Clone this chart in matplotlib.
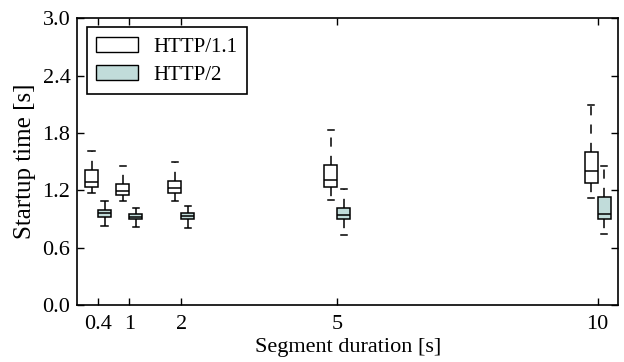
import matplotlib
matplotlib.use('Agg')
import matplotlib.pyplot as plt
from matplotlib.patches import Patch

plt.rcParams['font.family'] = ['Liberation Serif', 'DejaVu Serif']
plt.rcParams['font.size'] = 16

# segment durations [s]
durations = [0.4, 1, 2, 5, 10]

# startup time statistics per duration: lower cap, Q1, median, Q3, upper cap
h1_low = [1.17, 1.09, 1.09, 1.10, 1.12]
h1_q1 = [1.23, 1.15, 1.17, 1.23, 1.28]
h1_med = [1.29, 1.19, 1.22, 1.31, 1.40]
h1_q3 = [1.41, 1.27, 1.30, 1.47, 1.60]
h1_high = [1.61, 1.45, 1.50, 1.83, 2.09]

h2_low = [0.83, 0.82, 0.81, 0.73, 0.74]
h2_q1 = [0.92, 0.90, 0.90, 0.90, 0.90]
h2_med = [0.96, 0.92, 0.93, 0.94, 0.95]
h2_q3 = [0.99, 0.95, 0.96, 1.02, 1.13]
h2_high = [1.09, 1.02, 1.04, 1.21, 1.45]

h2_color = '#c1dcda'


def make_stats(low, q1, med, q3, high):
    return [dict(whislo=a, q1=b, med=c, q3=d, whishi=e, fliers=[])
            for a, b, c, d, e in zip(low, q1, med, q3, high)]


fig = plt.figure(figsize=(6.24, 3.62), dpi=100)
ax = fig.add_axes([0.124, 0.157, 0.867, 0.793])

off = 0.125
w = 0.25
line = dict(color='black', linewidth=1.1)
whisk = dict(color='black', linewidth=1.1, linestyle=(0, (6, 6)))

ax.bxp(make_stats(h1_low, h1_q1, h1_med, h1_q3, h1_high),
       positions=[d - off for d in durations], widths=w, patch_artist=True,
       boxprops=dict(facecolor='white', edgecolor='black', linewidth=1.1),
       medianprops=line, whiskerprops=whisk, capprops=line,
       manage_ticks=False)
ax.bxp(make_stats(h2_low, h2_q1, h2_med, h2_q3, h2_high),
       positions=[d + off for d in durations], widths=w, patch_artist=True,
       boxprops=dict(facecolor=h2_color, edgecolor='black', linewidth=1.1),
       medianprops=line, whiskerprops=whisk, capprops=line,
       manage_ticks=False)

ax.set_xlim(0, 10.4)
ax.set_ylim(0, 3.0)
ax.set_xticks(durations)
ax.set_xticklabels(['0.4', '1', '2', '5', '10'])
ax.set_yticks([0.0, 0.6, 1.2, 1.8, 2.4, 3.0])
ax.set_yticklabels(['0.0', '0.6', '1.2', '1.8', '2.4', '3.0'])
ax.tick_params(direction='in', top=True, right=True, length=5, width=1,
               labelsize=16)
ax.tick_params(axis='x', pad=7)
ax.tick_params(axis='y', pad=5)
for s in ax.spines.values():
    s.set_linewidth(1.2)

ax.set_xlabel('Segment duration [s]', fontsize=16, labelpad=3)
ax.set_ylabel('Startup time [s]', fontsize=18, labelpad=5)

handles = [Patch(facecolor='white', edgecolor='black', label='HTTP/1.1'),
           Patch(facecolor=h2_color, edgecolor='black', label='HTTP/2')]
leg = ax.legend(handles=handles, loc='upper left', fancybox=False,
                fontsize=15, handlelength=2.0, handleheight=0.72,
                borderpad=0.45, borderaxespad=0.45, labelspacing=0.4,
                handletextpad=0.75, framealpha=1)
leg.get_frame().set_edgecolor('black')
leg.get_frame().set_linewidth(1.2)

fig.savefig('out.png', dpi=100)
